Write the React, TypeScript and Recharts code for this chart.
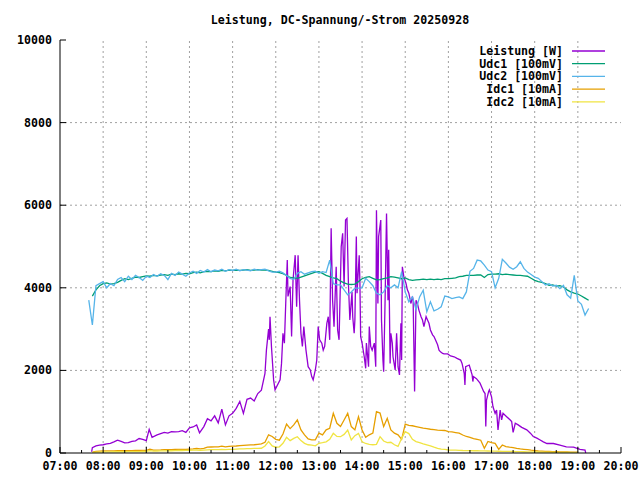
import { Line, LineChart, ReferenceLine, XAxis, YAxis } from "recharts";

// 5-Minuten-Raster für Spannungen und Ströme
const zeit = [
  "07:40", "07:45", "07:50", "07:55",
  "08:00", "08:05", "08:10", "08:15", "08:20", "08:25", "08:30", "08:35", "08:40", "08:45", "08:50", "08:55",
  "09:00", "09:05", "09:10", "09:15", "09:20", "09:25", "09:30", "09:35", "09:40", "09:45", "09:50", "09:55",
  "10:00", "10:05", "10:10", "10:15", "10:20", "10:25", "10:30", "10:35", "10:40", "10:45", "10:50", "10:55",
  "11:00", "11:05", "11:10", "11:15", "11:20", "11:25", "11:30", "11:35", "11:40", "11:45", "11:50", "11:55",
  "12:00", "12:05", "12:10", "12:15", "12:20", "12:25", "12:30", "12:35", "12:40", "12:45", "12:50", "12:55",
  "13:00", "13:05", "13:10", "13:15", "13:20", "13:25", "13:30", "13:35", "13:40", "13:45", "13:50", "13:55",
  "14:00", "14:05", "14:10", "14:15", "14:20", "14:25", "14:30", "14:35", "14:40", "14:45", "14:50", "14:55",
  "15:00", "15:05", "15:10", "15:15", "15:20", "15:25", "15:30", "15:35", "15:40", "15:45", "15:50", "15:55",
  "16:00", "16:05", "16:10", "16:15", "16:20", "16:25", "16:30", "16:35", "16:40", "16:45", "16:50", "16:55",
  "17:00", "17:05", "17:10", "17:15", "17:20", "17:25", "17:30", "17:35", "17:40", "17:45", "17:50", "17:55",
  "18:00", "18:05", "18:10", "18:15", "18:20", "18:25", "18:30", "18:35", "18:40", "18:45", "18:50", "18:55",
  "19:00", "19:05", "19:10", "19:15",
];

const udc1 = [
  null, 3800, 3950, 4050,
  4100, 4120, 4090, 4100, 4130, 4180, 4220, 4200, 4230, 4260, 4250, 4270,
  4290, 4280, 4300, 4290, 4310, 4320, 4300, 4330, 4320, 4340, 4330, 4350,
  4340, 4370, 4380, 4360, 4390, 4400, 4390, 4410, 4400, 4420, 4410, 4430,
  4420, 4430, 4420, 4430, 4440, 4420, 4430, 4440, 4430, 4430, 4420, 4400,
  4380, 4370, 4340, 4300, 4250, 4240, 4230, 4260, 4290, 4320, 4350, 4380,
  4390, 4350, 4300, 4270, 4240, 4220, 4160, 4120, 4090, 4080, 4090, 4150,
  4220, 4250, 4270, 4230, 4190, 4200, 4220, 4240, 4270, 4260, 4240, 4220,
  4240, 4200, 4180, 4190, 4200, 4210, 4200, 4210, 4200, 4210, 4200, 4220,
  4220, 4230, 4240, 4270, 4280, 4300, 4300, 4300, 4310, 4310, 4250, 4320,
  4330, 4330, 4340, 4320, 4330, 4320, 4310, 4300, 4300, 4290, 4280, 4230,
  4180, 4150, 4130, 4100, 4060, 4070, 4040, 4050, 4020, 3950, 3900, 3870,
  3850, 3800, 3750, 3700,
];

const udc2 = [
  3700, 3100, 4050, 4100,
  4150, 4000, 4100, 4050, 4200, 4250, 4150, 4280, 4200, 4300, 4250, 4180,
  4280, 4250, 4320, 4280, 4340, 4300, 4200, 4350, 4300, 4380, 4330, 4280,
  4360, 4400, 4350, 4420, 4380, 4440, 4390, 4430, 4410, 4450, 4400, 4440,
  4420, 4450, 4410, 4440, 4430, 4410, 4450, 4430, 4440, 4450, 4410, 4380,
  4380, 4400, 4360, 4300, 4230, 4200, 4350, 4390, 4330, 4360, 4390, 4400,
  4350, 4390, 4370, 4670, 4100, 4070, 4070, 3950, 3830, 3900, 3990, 3990,
  4000, 4230, 4150, 4050, 3870, 3830, 3900, 4050, 4000, 4070, 4000, 4390,
  3900, 3660, 3780, 3470, 3780, 3940, 3420, 3660, 3440, 3480, 3540, 3800,
  3780, 3740, 3760, 3780, 3740, 3900, 4400, 4470, 4670, 4650, 4550, 4430,
  4390, 4000, 4230, 4690, 4600, 4500, 4450, 4510, 4630, 4470, 4380, 4320,
  4260, 4230, 4150, 4070, 4100, 4040, 4060, 3980, 4060, 3830, 3750, 4300,
  3680, 3600, 3340, 3500,
];

const idc1 = [
  null, 20, 40, 45,
  48, 50, 50, 52, 55, 55, 55, 58, 58, 60, 60, 60,
  62, 90, 70, 72, 75, 80, 80, 82, 85, 85, 88, 90,
  95, 100, 110, 100, 110, 140, 145, 150, 150, 165, 150, 160,
  165, 170, 180, 185, 190, 195, 200, 210, 220, 260, 440, 400,
  330, 310, 460, 700, 590, 680, 800, 560, 440, 340, 320, 320,
  480, 440, 560, 600, 960, 720, 640, 800, 960, 640, 560, 880,
  557, 380, 440, 480, 1000, 968, 640, 840, 560, 480, 440, 330,
  700, 670, 660, 640, 620, 600, 590, 575, 565, 555, 550, 545,
  517, 510, 495, 480, 436, 400, 380, 350, 330, 310, 113, 280,
  250, 234, 89, 194, 153, 140, 130, 113, 100, 90, 80, 68,
  60, 48, 45, 40, 36, 32, 30, 26, 24, 24, 22, 22,
  20, null, null, null,
];

const idc2 = [
  null, 10, 20, 22,
  25, 25, 28, 30, 30, 30, 30, 32, 33, 35, 35, 36,
  38, 56, 45, 48, 50, 52, 55, 55, 58, 60, 60, 62,
  65, 68, 72, 65, 72, 78, 80, 82, 80, 90, 82, 88,
  90, 95, 98, 100, 105, 108, 110, 112, 115, 170, 276, 170,
  140, 150, 234, 379, 300, 355, 395, 300, 234, 200, 190, 175,
  234, 250, 270, 330, 476, 400, 395, 450, 557, 315, 420, 476,
  270, 230, 210, 200, 210, 395, 290, 250, 260, 200, 160, 355,
  517, 470, 330, 276, 250, 220, 194, 170, 140, 113, 95, 89,
  73, 70, 68, 65, 60, 58, 56, 55, 54, 52, 50, 48,
  45, 45, 42, 40, 40, 38, 36, 35, 32, 30, 28, 26,
  25, 24, 22, 20, 20, 18, 16, 15, 14, 12, 12, 10,
  10, null, null, null,
];

// Leistung mit eigenen (unregelmäßigen) Zeitstempeln
const leistungZeit = [
  "07:44", "07:45", "07:50", "07:55", "08:00", "08:05", "08:10", "08:15", "08:20", "08:25",
  "08:30", "08:35", "08:40", "08:45", "08:50", "08:55", "09:00", "09:04", "09:08", "09:15",
  "09:20", "09:25", "09:30", "09:35", "09:40", "09:45", "09:50", "09:55", "10:00", "10:05",
  "10:10", "10:14", "10:20", "10:25", "10:30", "10:35", "10:40", "10:45", "10:50", "10:55",
  "11:00", "11:05", "11:10", "11:15", "11:20", "11:25", "11:30", "11:35", "11:40", "11:45",
  "11:47", "11:50", "11:51", "11:52", "11:54", "11:57", "11:59", "12:06", "12:08", "12:10",
  "12:12", "12:14", "12:16", "12:17", "12:20", "12:22", "12:24", "12:27", "12:29", "12:31",
  "12:33", "12:35", "12:37", "12:39", "12:42", "12:45", "12:48", "12:50", "12:52", "12:55",
  "12:57", "12:59", "13:01", "13:04", "13:06", "13:08", "13:11", "13:13", "13:15", "13:17",
  "13:19", "13:21", "13:24", "13:26", "13:28", "13:31", "13:33", "13:35", "13:37", "13:39",
  "13:41", "13:43", "13:46", "13:47", "13:49", "13:50", "13:52", "13:53", "13:56", "13:57",
  "13:58", "14:00", "14:03", "14:05", "14:06", "14:09", "14:10", "14:12", "14:14", "14:17",
  "14:19", "14:20", "14:22", "14:23", "14:26", "14:27", "14:29", "14:30", "14:32", "14:34",
  "14:36", "14:37", "14:39", "14:40", "14:42", "14:43", "14:46", "14:48", "14:50", "14:52",
  "14:54", "14:55", "14:56", "14:58", "15:01", "15:03", "15:05", "15:08", "15:10", "15:11",
  "15:13", "15:15", "15:17", "15:19", "15:22", "15:24", "15:26", "15:29", "15:31", "15:33",
  "15:35", "15:38", "15:40", "15:42", "15:45", "15:47", "15:49", "15:52", "15:54", "15:59",
  "16:03", "16:08", "16:12", "16:17", "16:19", "16:22", "16:23", "16:24", "16:29", "16:33",
  "16:34", "16:35", "16:39", "16:44", "16:46", "16:49", "16:51", "16:52", "16:53", "16:56",
  "16:57", "17:00", "17:02", "17:05", "17:07", "17:09", "17:12", "17:14", "17:16", "17:21",
  "17:26", "17:28", "17:30", "17:33", "17:37", "17:42", "17:49", "17:54", "17:58", "18:03",
  "18:07", "18:12", "18:17", "18:26", "18:35", "18:44", "18:54", "19:03", "19:10", "19:11",
];

const leistungW = [
  30, 130, 170, 190, 200, 220, 234, 270, 310, 280,
  245, 250, 280, 295, 350, 330, 300, 570, 380, 440,
  470, 500, 480, 515, 510, 520, 540, 500, 610, 630,
  680, 490, 640, 830, 780, 900, 730, 1060, 680, 900,
  960, 1080, 1250, 960, 1300, 1330, 1260, 1440, 1520, 1930,
  2490, 3000, 2740, 3300, 2580, 1770, 1530, 1770, 2170, 2900,
  2660, 3700, 4670, 3790, 4030, 2820, 4190, 4790, 3540, 4790,
  3700, 2900, 2580, 3060, 2490, 2090, 2010, 1850, 1770, 2010,
  2250, 3060, 2740, 2660, 2490, 2580, 3140, 3300, 2740, 5440,
  3700, 3060, 4510, 2980, 2740, 5000, 5320, 4030, 5640, 5680,
  4110, 3220, 3900, 3300, 2900, 3220, 5240, 3870, 4790, 4110,
  2820, 2660, 2330, 2050, 2660, 2090, 3060, 2580, 2490, 2660,
  2090, 5880, 3620, 5240, 5640, 3220, 2250, 1970, 3700, 5800,
  3700, 4920, 2170, 2900, 2660, 2330, 2010, 2900, 2090, 1890,
  3140, 2250, 4510, 4270, 4110, 3950, 3870, 3620, 3790, 3700,
  1490, 3700, 3620, 3460, 3300, 3220, 3060, 3300, 3220, 3140,
  2980, 2860, 2820, 2740, 2620, 2490, 2450, 2410, 2400, 2400,
  2350, 2330, 2290, 2250, 2170, 1930, 1650, 2090, 2130, 1890,
  1730, 1850, 1800, 1690, 1610, 1490, 1440, 640, 1280, 1490,
  1530, 1360, 1120, 960, 1040, 560, 1040, 800, 960, 880,
  800, 760, 500, 720, 680, 620, 560, 480, 400, 360,
  320, 270, 230, 230, 190, 150, 140, 90, 70, 0,
];

const stunden = [
  "07:00", "08:00", "09:00", "10:00", "11:00", "12:00", "13:00",
  "14:00", "15:00", "16:00", "17:00", "18:00", "19:00", "20:00",
];
const yTicks = [0, 2000, 4000, 6000, 8000, 10000];

const serien = [
  { key: "w", name: "Leistung [W]", color: "#9400d3" },
  { key: "udc1", name: "Udc1 [100mV]", color: "#009e73" },
  { key: "udc2", name: "Udc2 [100mV]", color: "#56b4e9" },
  { key: "idc1", name: "Idc1 [10mA]", color: "#e69f00" },
  { key: "idc2", name: "Idc2 [10mA]", color: "#f0e442" },
];

const FONT = "'DejaVu Sans Mono', 'Liberation Mono', monospace";
const GRID = "#a0a0a0";

function toMin(t: string) {
  const [h, m] = t.split(":").map(Number);
  return h * 60 + m;
}

function fmt(v: number) {
  return String(Math.floor(v / 60)).padStart(2, "0") + ":00";
}

const rows = zeit.map((t, i) => ({
  t: toMin(t),
  udc1: udc1[i],
  udc2: udc2[i],
  idc1: idc1[i],
  idc2: idc2[i],
}));

const leistungRows = leistungZeit.map((t, i) => ({ t: toMin(t), w: leistungW[i] }));

const hourMins = stunden.map(toMin);
const xTicks = hourMins.flatMap((m, i) => (i < hourMins.length - 1 ? [m, m + 30] : [m]));

const textStyle = {
  fontFamily: FONT,
  fontSize: 11.6,
  fontWeight: "bold" as const,
  fill: "#000",
};

function BottomTick({ x, y, payload }: any) {
  const major = payload.value % 60 === 0;
  return (
    <g>
      <line x1={x} x2={x} y1={y} y2={y - (major ? 6 : 3)} stroke="#000" />
      {major && (
        <text x={x} y={y + 17} textAnchor="middle" {...textStyle}>
          {fmt(payload.value)}
        </text>
      )}
    </g>
  );
}

function TopTick({ x, y, payload }: any) {
  const major = payload.value % 60 === 0;
  return <line x1={x} x2={x} y1={y} y2={y + (major ? 6 : 3)} stroke="#000" />;
}

function LeftTick({ x, y, payload }: any) {
  return (
    <g>
      <line x1={x} x2={x + 6} y1={y} y2={y} stroke="#000" />
      <text x={x - 8} y={y + 4} textAnchor="end" {...textStyle}>
        {payload.value}
      </text>
    </g>
  );
}

function RightTick({ x, y }: any) {
  return <line x1={x} x2={x - 6} y1={y} y2={y} stroke="#000" />;
}

export default function App() {
  return (
    <div style={{ position: "absolute", left: 0, top: 0, width: 640, height: 480, background: "#fff" }}>
      <LineChart
        width={640}
        height={480}
        data={rows}
        margin={{ top: 40, right: 19, bottom: 0, left: 0 }}
      >
        <XAxis
          dataKey="t"
          type="number"
          domain={[420, 1200]}
          ticks={xTicks}
          interval={0}
          height={27}
          tickSize={0}
          tickMargin={0}
          tick={<BottomTick />}
          tickLine={false}
          axisLine={{ stroke: "#000" }}
          allowDataOverflow
        />
        <XAxis
          xAxisId="top"
          orientation="top"
          dataKey="t"
          type="number"
          domain={[420, 1200]}
          ticks={xTicks}
          interval={0}
          height={0}
          tickSize={0}
          tickMargin={0}
          tick={<TopTick />}
          tickLine={false}
          axisLine={{ stroke: "#000" }}
          allowDataOverflow
        />
        <YAxis
          type="number"
          domain={[0, 10000]}
          ticks={yTicks}
          interval={0}
          width={60}
          tickSize={0}
          tickMargin={0}
          tick={<LeftTick />}
          tickLine={false}
          axisLine={{ stroke: "#000" }}
          allowDataOverflow
        />
        <YAxis
          yAxisId="right"
          orientation="right"
          type="number"
          domain={[0, 10000]}
          ticks={yTicks}
          interval={0}
          width={0}
          tickSize={0}
          tickMargin={0}
          tick={<RightTick />}
          tickLine={false}
          axisLine={{ stroke: "#000" }}
          allowDataOverflow
        />
        {hourMins.slice(1, -1).map((m) => (
          <ReferenceLine key={"x" + m} x={m} stroke={GRID} strokeDasharray="2 3" />
        ))}
        {yTicks.slice(1, -1).map((v) => (
          <ReferenceLine key={"y" + v} y={v} stroke={GRID} strokeDasharray="2 3" />
        ))}
        <Line
          data={leistungRows}
          dataKey="w"
          name={serien[0].name}
          stroke={serien[0].color}
          strokeWidth={1.3}
          type="linear"
          dot={false}
          activeDot={false}
          isAnimationActive={false}
        />
        {serien.slice(1).map((s) => (
          <Line
            key={s.key}
            dataKey={s.key}
            name={s.name}
            stroke={s.color}
            strokeWidth={1.3}
            type="linear"
            dot={false}
            activeDot={false}
            isAnimationActive={false}
          />
        ))}
      </LineChart>
      <svg
        width={640}
        height={480}
        style={{ position: "absolute", left: 0, top: 0, pointerEvents: "none" }}
      >
        <text x={340} y={24} textAnchor="middle" {...textStyle}>
          Leistung, DC-Spannung/-Strom 20250928
        </text>
        {serien.map((s, i) => (
          <g key={s.key}>
            <text x={563} y={55 + i * 12.7} textAnchor="end" {...textStyle}>
              {s.name}
            </text>
            <line
              x1={572}
              x2={605}
              y1={51 + i * 12.7}
              y2={51 + i * 12.7}
              stroke={s.color}
              strokeWidth={1.3}
            />
          </g>
        ))}
      </svg>
    </div>
  );
}
